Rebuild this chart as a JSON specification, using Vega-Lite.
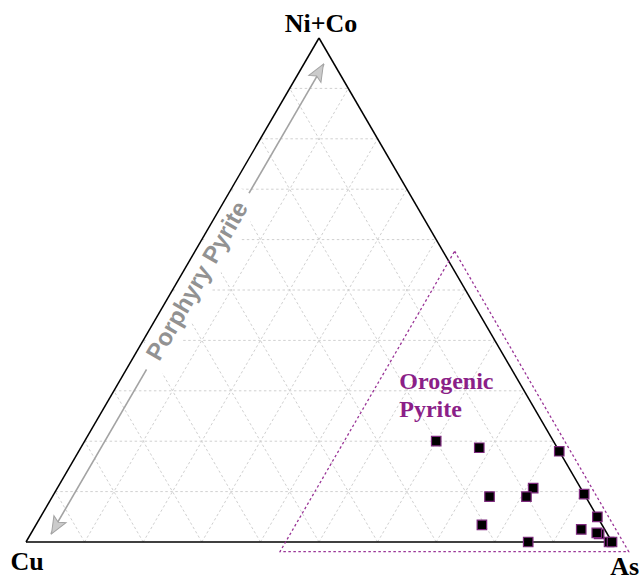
{
  "$schema": "https://vega.github.io/schema/vega-lite/v6.json",
  "width": 586,
  "height": 504,
  "autosize": {"type": "none"},
  "padding": {"left": 26, "top": 38, "right": 32, "bottom": 37},
  "background": "white",
  "config": {"view": {"stroke": null}},
  "datasets": {
    "grid": [
      {"As_a": 0, "NiCo_a": 10, "As_b": 90, "NiCo_b": 10},
      {"As_a": 0, "NiCo_a": 20, "As_b": 80, "NiCo_b": 20},
      {"As_a": 0, "NiCo_a": 30, "As_b": 70, "NiCo_b": 30},
      {"As_a": 0, "NiCo_a": 40, "As_b": 60, "NiCo_b": 40},
      {"As_a": 0, "NiCo_a": 50, "As_b": 50, "NiCo_b": 50},
      {"As_a": 0, "NiCo_a": 60, "As_b": 40, "NiCo_b": 60},
      {"As_a": 0, "NiCo_a": 70, "As_b": 30, "NiCo_b": 70},
      {"As_a": 0, "NiCo_a": 80, "As_b": 20, "NiCo_b": 80},
      {"As_a": 0, "NiCo_a": 90, "As_b": 10, "NiCo_b": 90},
      {"As_a": 10, "NiCo_a": 0, "As_b": 10, "NiCo_b": 90},
      {"As_a": 20, "NiCo_a": 0, "As_b": 20, "NiCo_b": 80},
      {"As_a": 30, "NiCo_a": 0, "As_b": 30, "NiCo_b": 70},
      {"As_a": 40, "NiCo_a": 0, "As_b": 40, "NiCo_b": 60},
      {"As_a": 50, "NiCo_a": 0, "As_b": 50, "NiCo_b": 50},
      {"As_a": 60, "NiCo_a": 0, "As_b": 60, "NiCo_b": 40},
      {"As_a": 70, "NiCo_a": 0, "As_b": 70, "NiCo_b": 30},
      {"As_a": 80, "NiCo_a": 0, "As_b": 80, "NiCo_b": 20},
      {"As_a": 90, "NiCo_a": 0, "As_b": 90, "NiCo_b": 10},
      {"As_a": 90, "NiCo_a": 0, "As_b": 0, "NiCo_b": 90},
      {"As_a": 80, "NiCo_a": 0, "As_b": 0, "NiCo_b": 80},
      {"As_a": 70, "NiCo_a": 0, "As_b": 0, "NiCo_b": 70},
      {"As_a": 60, "NiCo_a": 0, "As_b": 0, "NiCo_b": 60},
      {"As_a": 50, "NiCo_a": 0, "As_b": 0, "NiCo_b": 50},
      {"As_a": 40, "NiCo_a": 0, "As_b": 0, "NiCo_b": 40},
      {"As_a": 30, "NiCo_a": 0, "As_b": 0, "NiCo_b": 30},
      {"As_a": 20, "NiCo_a": 0, "As_b": 0, "NiCo_b": 20},
      {"As_a": 10, "NiCo_a": 0, "As_b": 0, "NiCo_b": 10}
    ],
    "edges": [
      {"As_a": 0, "NiCo_a": 0, "As_b": 100, "NiCo_b": 0},
      {"As_a": 100, "NiCo_a": 0, "As_b": 0, "NiCo_b": 100},
      {"As_a": 0, "NiCo_a": 100, "As_b": 0, "NiCo_b": 0}
    ],
    "porphyry": [
      {"As_a": 3.45, "NiCo_a": 1.6, "As_b": 3.45, "NiCo_b": 94.8}
    ],
    "porphyryEnds": [
      {"end": "top", "As": 3.35, "NiCo": 94.8},
      {"end": "bottom", "As": 3.55, "NiCo": 1.6}
    ],
    "porphyryLabel": [
      {"label": "Porphyry Pyrite", "As": 3.5, "NiCo": 51.7}
    ],
    "orogenicField": [
      {"i": 1, "As": 44.3, "NiCo": 57.7},
      {"i": 2, "As": 103.8, "NiCo": -1.9},
      {"i": 3, "As": 44.3, "NiCo": -1.9},
      {"i": 4, "As": 44.3, "NiCo": 57.7}
    ],
    "orogenicLabel": [
      {"label": "Orogenic\nPyrite", "As": 48.5, "NiCo": 30.4}
    ],
    "samples": [
      {"Cu": 20.0, "As": 60.0, "NiCo": 20.0},
      {"Cu": 13.3, "As": 68.0, "NiCo": 18.7},
      {"Cu": 0.0, "As": 82.0, "NiCo": 18.0},
      {"Cu": 8.1, "As": 81.2, "NiCo": 10.7},
      {"Cu": 16.4, "As": 74.6, "NiCo": 9.0},
      {"Cu": 10.1, "As": 80.9, "NiCo": 9.0},
      {"Cu": 0.0, "As": 90.5, "NiCo": 9.5},
      {"Cu": 0.0, "As": 95.0, "NiCo": 5.0},
      {"Cu": 20.5, "As": 76.1, "NiCo": 3.4},
      {"Cu": 4.0, "As": 93.5, "NiCo": 2.5},
      {"Cu": 1.4, "As": 97.0, "NiCo": 1.6},
      {"Cu": 1.7, "As": 96.5, "NiCo": 1.8},
      {"Cu": 14.3, "As": 85.7, "NiCo": 0.0},
      {"Cu": 0.5, "As": 99.5, "NiCo": 0.0},
      {"Cu": 0.0, "As": 100.0, "NiCo": 0.0}
    ],
    "vertices": [
      {"label": "Ni+Co", "As": -0.2, "NiCo": 101.1},
      {"label": "Cu", "As": 3.0, "NiCo": -5.6},
      {"label": "As", "As": 105.4, "NiCo": -6.5}
    ]
  },
  "encoding": {
    "x": {"field": "x", "type": "quantitative", "scale": {"domain": [0, 1], "nice": false, "zero": false}, "axis": null},
    "y": {"field": "y", "type": "quantitative", "scale": {"domain": [0, 1], "nice": false, "zero": false}, "axis": null}
  },
  "layer": [
    {
      "data": {"name": "grid"},
      "transform": [
        {"calculate": "(datum.As_a + datum.NiCo_a / 2) / 100", "as": "x"},
        {"calculate": "datum.NiCo_a / 100", "as": "y"},
        {"calculate": "(datum.As_b + datum.NiCo_b / 2) / 100", "as": "x2"},
        {"calculate": "datum.NiCo_b / 100", "as": "y2"}
      ],
      "mark": {"type": "rule", "color": "#d0d0d0", "strokeWidth": 1, "strokeDash": [2.5, 2.5]},
      "encoding": {"x2": {"field": "x2"}, "y2": {"field": "y2"}}
    },
    {
      "data": {"name": "porphyry"},
      "transform": [
        {"calculate": "(datum.As_a + datum.NiCo_a / 2) / 100", "as": "x"},
        {"calculate": "datum.NiCo_a / 100", "as": "y"},
        {"calculate": "(datum.As_b + datum.NiCo_b / 2) / 100", "as": "x2"},
        {"calculate": "datum.NiCo_b / 100", "as": "y2"}
      ],
      "mark": {"type": "rule", "color": "#a3a3a3", "strokeWidth": 1.6},
      "encoding": {"x2": {"field": "x2"}, "y2": {"field": "y2"}}
    },
    {
      "data": {"name": "porphyryLabel"},
      "transform": [
        {"calculate": "(datum.As + datum.NiCo / 2) / 100", "as": "x"},
        {"calculate": "datum.NiCo / 100", "as": "y"}
      ],
      "mark": {"type": "point", "shape": "M-1,-0.15L1,-0.15L1,0.15L-1,0.15Z", "size": 41616, "angle": -60, "filled": true, "fill": "white", "opacity": 1, "strokeWidth": 0}
    },
    {
      "data": {"name": "edges"},
      "transform": [
        {"calculate": "(datum.As_a + datum.NiCo_a / 2) / 100", "as": "x"},
        {"calculate": "datum.NiCo_a / 100", "as": "y"},
        {"calculate": "(datum.As_b + datum.NiCo_b / 2) / 100", "as": "x2"},
        {"calculate": "datum.NiCo_b / 100", "as": "y2"}
      ],
      "mark": {"type": "rule", "color": "black", "strokeWidth": 1.5},
      "encoding": {"x2": {"field": "x2"}, "y2": {"field": "y2"}}
    },
    {
      "data": {"name": "porphyryLabel"},
      "transform": [
        {"calculate": "(datum.As + datum.NiCo / 2) / 100", "as": "x"},
        {"calculate": "datum.NiCo / 100", "as": "y"}
      ],
      "mark": {"type": "text", "angle": -60, "align": "center", "baseline": "middle", "font": "Liberation Sans", "fontWeight": "bold", "fontSize": 24, "color": "#929292"},
      "encoding": {"text": {"field": "label"}}
    },
    {
      "data": {"name": "porphyryEnds"},
      "transform": [
        {"filter": "datum.end === 'top'"},
        {"calculate": "(datum.As + datum.NiCo / 2) / 100", "as": "x"},
        {"calculate": "datum.NiCo / 100", "as": "y"}
      ],
      "mark": {"type": "point", "shape": "M0,0L0.7,1.7L0,1.35L-0.7,1.7Z", "size": 400, "angle": 30, "filled": true, "fill": "#cbcbcb", "stroke": "#a3a3a3", "strokeWidth": 1, "opacity": 1}
    },
    {
      "data": {"name": "porphyryEnds"},
      "transform": [
        {"filter": "datum.end === 'bottom'"},
        {"calculate": "(datum.As + datum.NiCo / 2) / 100", "as": "x"},
        {"calculate": "datum.NiCo / 100", "as": "y"}
      ],
      "mark": {"type": "point", "shape": "M0,0L0.7,1.7L0,1.35L-0.7,1.7Z", "size": 400, "angle": 210, "filled": true, "fill": "#cbcbcb", "stroke": "#a3a3a3", "strokeWidth": 1, "opacity": 1}
    },
    {
      "data": {"name": "orogenicField"},
      "transform": [
        {"calculate": "(datum.As + datum.NiCo / 2) / 100", "as": "x"},
        {"calculate": "datum.NiCo / 100", "as": "y"}
      ],
      "mark": {"type": "line", "color": "#9a3597", "strokeWidth": 1.3, "strokeDash": [2.5, 2.5]},
      "encoding": {"order": {"field": "i", "type": "quantitative"}}
    },
    {
      "data": {"name": "samples"},
      "transform": [
        {"calculate": "(datum.As + datum.NiCo / 2) / 100", "as": "x"},
        {"calculate": "datum.NiCo / 100", "as": "y"}
      ],
      "mark": {"type": "point", "shape": "square", "size": 90, "filled": true, "fill": "black", "stroke": "#7e2a7e", "strokeWidth": 1.2, "opacity": 1}
    },
    {
      "data": {"name": "orogenicLabel"},
      "transform": [
        {"calculate": "(datum.As + datum.NiCo / 2) / 100", "as": "x"},
        {"calculate": "datum.NiCo / 100", "as": "y"}
      ],
      "mark": {"type": "text", "align": "left", "baseline": "alphabetic", "lineBreak": "\n", "lineHeight": 28, "font": "Liberation Serif", "fontWeight": "bold", "fontSize": 24, "color": "#8b1f88"},
      "encoding": {"text": {"field": "label"}}
    },
    {
      "data": {"name": "vertices"},
      "transform": [
        {"calculate": "(datum.As + datum.NiCo / 2) / 100", "as": "x"},
        {"calculate": "datum.NiCo / 100", "as": "y"}
      ],
      "mark": {"type": "text", "align": "center", "baseline": "alphabetic", "font": "Liberation Serif", "fontWeight": "bold", "fontSize": 26, "color": "black"},
      "encoding": {"text": {"field": "label"}}
    }
  ]
}
